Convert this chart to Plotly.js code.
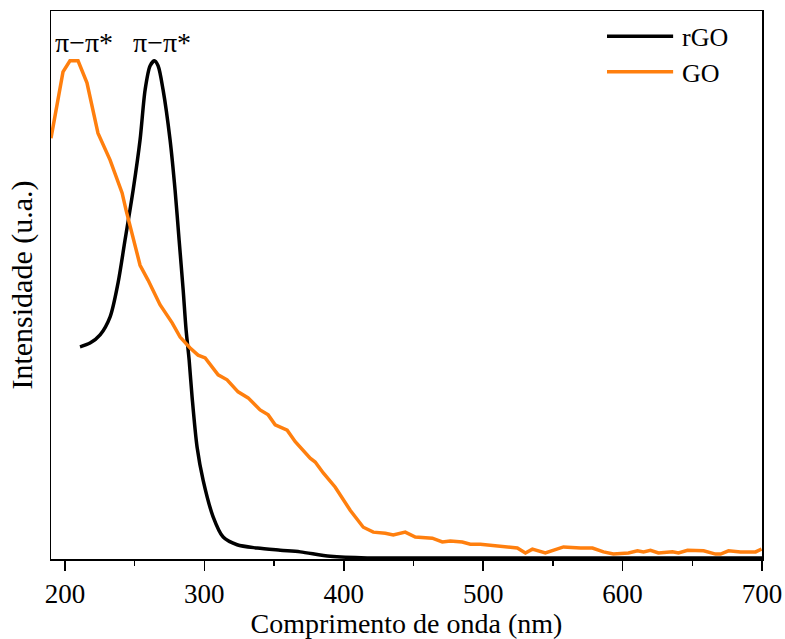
<!DOCTYPE html>
<html>
<head>
<meta charset="utf-8">
<script src="https://cdn.plot.ly/plotly-3.0.1.min.js"></script>
<style>html,body{margin:0;padding:0;background:#fff;}#chart{width:785px;height:639px;}</style>
</head>
<body>
<div id="chart"></div>
<script>
const goWavelength = [190.0,194.3,198.6,203.6,209.4,215.8,223.7,232.4,241.0,243.8,248.9,253.9,259.6,268.2,276.9,282.6,289.8,295.5,300.6,305.6,309.9,316.3,324.2,331.4,340.0,345.8,350.8,359.4,365.2,375.9,379.5,385.3,393.9,404.6,414.0,421.2,429.8,435.5,440.5,444.1,451.3,463.5,470.7,476.4,485.0,490.8,498.0,510.2,515.9,524.5,530.3,535.3,544.6,557.6,569.8,578.4,586.3,593.4,604.2,610.7,615.0,620.0,625.7,635.8,640.1,646.6,658.1,666.7,670.3,676.0,684.6,695.4,699.7];
const goIntensity = [0.768,0.828,0.889,0.909,0.909,0.869,0.777,0.728,0.668,0.637,0.588,0.536,0.509,0.464,0.431,0.405,0.385,0.372,0.367,0.350,0.336,0.327,0.305,0.294,0.272,0.263,0.245,0.235,0.214,0.184,0.177,0.157,0.131,0.089,0.058,0.049,0.047,0.044,0.047,0.049,0.040,0.038,0.031,0.033,0.031,0.027,0.027,0.024,0.022,0.020,0.011,0.018,0.011,0.022,0.020,0.020,0.013,0.009,0.011,0.015,0.013,0.016,0.011,0.013,0.011,0.016,0.015,0.009,0.009,0.015,0.013,0.013,0.018];

const rgoWavelength = [210.8,218.0,225.2,232.4,238.1,243.1,248.9,253.9,257.5,261.1,264.2,266.8,270.4,275.4,279.0,281.9,284.8,286.9,289.1,291.2,294.8,299.1,306.3,313.5,323.5,337.9,354.4,368.8,390.3,416.8,450,500,550,600,650,700];
const rgoIntensity = [0.387,0.394,0.409,0.442,0.504,0.582,0.673,0.765,0.856,0.900,0.909,0.900,0.856,0.765,0.673,0.582,0.491,0.418,0.363,0.296,0.204,0.144,0.077,0.040,0.026,0.020,0.016,0.013,0.005,0.002,0.002,0.002,0.002,0.002,0.002,0.002];

const xTicks = [200,300,400,500,600,700];
const peakLabels = [{x:213.7, text:'π−π*'},{x:269.3, text:'π−π*'}];
const seriesNames = ['rGO','GO'];

const serif = 'Liberation Serif, Times New Roman, serif';
const COLORS = ['#000000', '#ff7f0e'];

const traces = [
  {x: rgoWavelength, y: rgoIntensity, name: seriesNames[0], mode: 'lines',
   line: {color: COLORS[0], width: 3.5, shape: 'spline', smoothing: 0.8}},
  {x: goWavelength, y: goIntensity, name: seriesNames[1], mode: 'lines',
   line: {color: COLORS[1], width: 3.5}}
];

// legend drawn in paper coordinates to match the reference's long sample lines
const legendY = [0.954, 0.889];
const legendShapes = legendY.map((y, i) => ({
  type: 'line', xref: 'paper', yref: 'paper', x0: 0.782, x1: 0.875, y0: y, y1: y,
  line: {color: COLORS[i], width: 3.5}
}));
const legendTexts = legendY.map((y, i) => ({
  xref: 'paper', yref: 'paper', x: 0.884, y: y - 0.003, xanchor: 'left', yanchor: 'middle',
  text: seriesNames[i], showarrow: false, font: {family: serif, size: 26, color: '#000'}
}));

const layout = {
  width: 785, height: 639,
  margin: {l: 51, r: 23, t: 11, b: 80},
  paper_bgcolor: '#fff', plot_bgcolor: '#fff',
  font: {family: serif, color: '#000', size: 24},
  showlegend: false,
  xaxis: {
    range: [190, 700], tickvals: xTicks, ticktext: xTicks.map(String),
    ticks: 'outside', ticklen: 10, tickwidth: 1.5, tickcolor: '#000',
    minor: {ticks: 'outside', dtick: 50, tick0: 0, ticklen: 5, tickwidth: 1.5, tickcolor: '#000', showgrid: false},
    showline: true, linecolor: '#000', linewidth: 1.5, mirror: true,
    showgrid: false, zeroline: false, automargin: false,
    tickfont: {family: serif, size: 27, color: '#000'},
    title: {text: 'Comprimento de onda (nm)', font: {family: serif, size: 28, color: '#000'}, standoff: 9}
  },
  yaxis: {
    range: [0, 1], showticklabels: false, ticks: '',
    showline: true, linecolor: '#000', linewidth: 1.5, mirror: true,
    showgrid: false, zeroline: false, automargin: false,
    title: {text: 'Intensidade (u.a.)', font: {family: serif, size: 30, color: '#000'}, standoff: 8}
  },
  shapes: legendShapes,
  annotations: peakLabels.map(p => ({
    x: p.x, y: 0.943, xref: 'x', yref: 'y', text: p.text, showarrow: false,
    font: {family: serif, size: 28, color: '#000'}
  })).concat(legendTexts)
};

Plotly.newPlot('chart', traces, layout, {displayModeBar: false, staticPlot: true});
</script>
</body>
</html>
